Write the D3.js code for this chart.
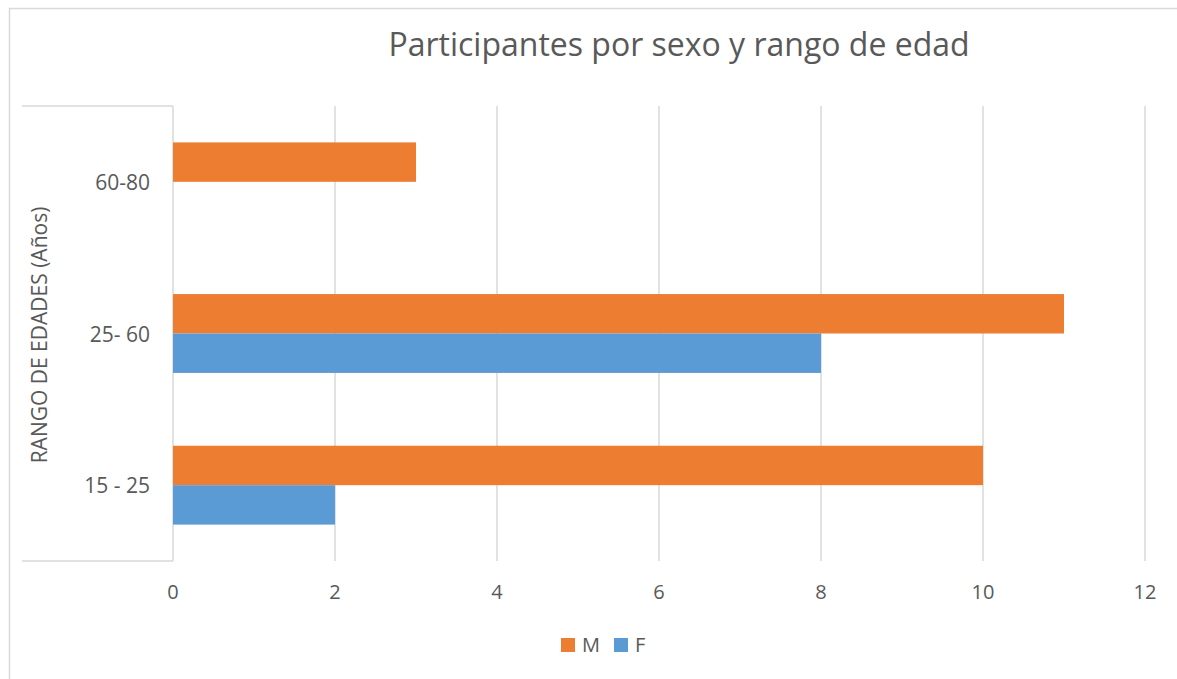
<!DOCTYPE html>
<html>
<head>
<meta charset="utf-8">
<script src="https://cdn.jsdelivr.net/npm/d3@7"></script>
<style>
  body { margin: 0; background: #fff; }
  text { font-family: "Open Sans", "Noto Sans", sans-serif; fill: #595959; }
</style>
</head>
<body>
<svg id="chart" width="1177" height="679"></svg>
<script>
// data
var categories = ["15 - 25", "25- 60", "60-80"];
var series = ["M", "F"];
var valuesM = [10, 11, 3];
var valuesF = [2, 8, 0];
var xTicks = [0, 2, 4, 6, 8, 10, 12];
var colors = { M: "#ED7D31", F: "#5B9BD5" };

var svg = d3.select("#chart");
var plotLeft = 173, plotRight = 1145, plotTop = 106, plotBottom = 561;

// chart frame
svg.append("rect").attr("x", 9.5).attr("y", 8.5).attr("width", 1200).attr("height", 700)
    .attr("fill", "none").attr("stroke", "#D9D9D9").attr("stroke-width", 1.5);

// title
svg.append("text").attr("x", 679).attr("y", 56).attr("text-anchor", "middle")
    .style("font-size", "32px").text("Participantes por sexo y rango de edad");

var x = d3.scaleLinear().domain([0, 12]).range([plotLeft, plotRight]);
var y = d3.scaleBand().domain(categories.slice().reverse()).range([plotTop, plotBottom])
    .paddingInner(0.48).paddingOuter(0.24);
var ySub = d3.scaleBand().domain(series).range([0, y.bandwidth()]);

// vertical gridlines
svg.append("g").selectAll("line").data(xTicks).enter().append("line")
    .attr("x1", function (d) { return x(d); }).attr("x2", function (d) { return x(d); })
    .attr("y1", plotTop).attr("y2", plotBottom)
    .attr("stroke", "#D9D9D9").attr("stroke-width", 1.5);

// category axis boundary lines
[plotTop, plotBottom].forEach(function (yy) {
    svg.append("line").attr("x1", 22).attr("x2", plotLeft).attr("y1", yy).attr("y2", yy)
        .attr("stroke", "#D9D9D9").attr("stroke-width", 1.5);
});

// bars
var rows = categories.map(function (c, i) { return { cat: c, M: valuesM[i], F: valuesF[i] }; });
var groups = svg.append("g").selectAll("g").data(rows).enter().append("g")
    .attr("transform", function (d) { return "translate(0," + y(d.cat) + ")"; });
groups.selectAll("rect").data(function (d) {
    return series.map(function (s) { return { s: s, v: d[s] }; });
}).enter().append("rect")
    .attr("x", x(0))
    .attr("y", function (d) { return ySub(d.s); })
    .attr("width", function (d) { return x(d.v) - x(0); })
    .attr("height", ySub.bandwidth())
    .attr("fill", function (d) { return colors[d.s]; });

// x tick labels
svg.append("g").selectAll("text").data(xTicks).enter().append("text")
    .attr("x", function (d) { return x(d); }).attr("y", 599)
    .attr("text-anchor", "middle").style("font-size", "20px")
    .text(function (d) { return d; });

// category labels
svg.append("g").selectAll("text").data(categories).enter().append("text")
    .attr("x", 150).attr("y", function (d) { return y(d) + y.bandwidth() / 2 + 8; })
    .attr("text-anchor", "end").style("font-size", "21px")
    .text(function (d) { return d; });

// y axis title
svg.append("text").attr("transform", "translate(47,335) rotate(-90)")
    .attr("text-anchor", "middle").style("font-size", "21px")
    .text("RANGO DE EDADES (Años)");

// legend
var legend = svg.append("g").selectAll("g").data(series).enter().append("g")
    .attr("transform", function (d, i) { return "translate(" + (561 + i * 53) + ",638)"; });
legend.append("rect").attr("width", 14).attr("height", 14)
    .attr("fill", function (d) { return colors[d]; });
legend.append("text").attr("x", 21).attr("y", 14).style("font-size", "20px")
    .text(function (d) { return d; });
</script>
</body>
</html>
